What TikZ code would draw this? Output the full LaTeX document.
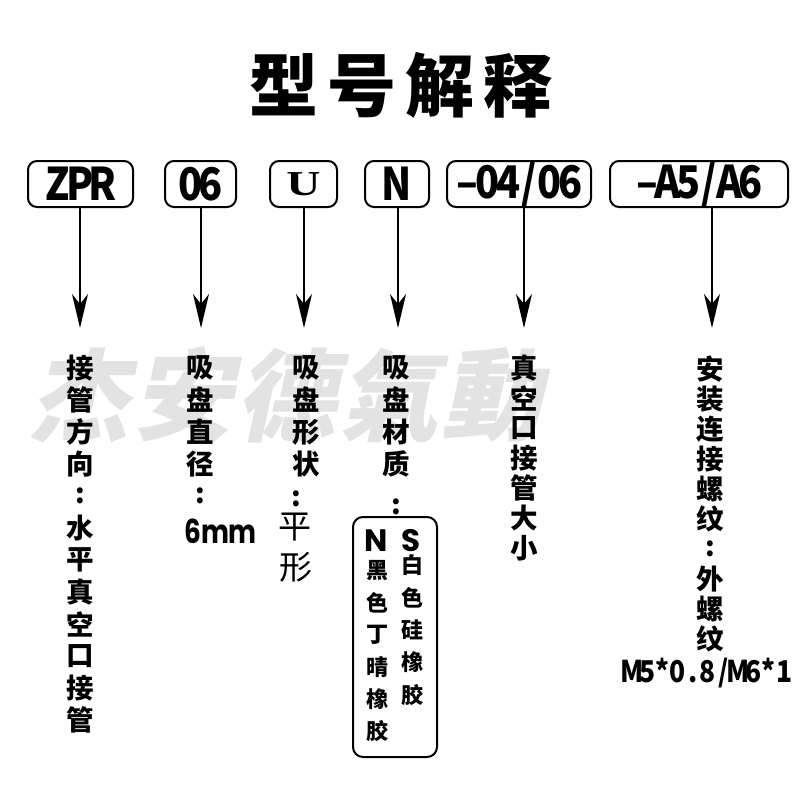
\documentclass[tikz,border=0pt]{standalone}
\usepackage{fontspec}
\usetikzlibrary{arrows.meta}
\newfontfamily\cjk{Noto Sans CJK SC}
\newfontfamily\pop{Poppins}
\newfontfamily\ser{Liberation Serif}
\definecolor{wm}{gray}{0.89}
\newcommand\mc[2][23.5pt]{\makebox[#1]{#2}}
\begin{document}
\begin{tikzpicture}[x=1pt,y=-1pt,
  box/.style={draw, line width=2pt, rounded corners=9pt, minimum height=46pt, inner sep=0pt},
  boxtxt/.style={font=\cjk\bfseries\fontsize{45}{45}\selectfont},
  lab/.style={font=\cjk\bfseries\fontsize{27.5}{27.5}\selectfont, inner sep=0pt},
  small/.style={font=\cjk\bfseries\fontsize{22}{22}\selectfont, inner sep=0pt},
  thin/.style={font=\cjk\fontsize{33}{33}\selectfont, inner sep=0pt},
  arr/.style={line width=2.2pt, -{Stealth[length=34pt,width=16pt,inset=10pt]}},
  wmark/.style={font=\cjk\bfseries\fontsize{100}{100}\selectfont, text=wm, inner sep=0pt}]
\useasboundingbox (0,0) rectangle (800,800);
\fill[white] (0,0) rectangle (800,800);
% watermark
\begin{scope}[xslant=0.22]
\foreach \c [count=\i from 0] in {杰,安,德,氣,動}
  \node[wmark, transform shape] (w\i) at ({175+103*\i},395) {\c};
\end{scope}
% title
\node[font=\cjk\bfseries\fontsize{69}{69}\selectfont, inner sep=0pt] (title) at (401,85)
  {型\hspace{9pt}号\hspace{9pt}解\hspace{9pt}释};
% boxes
\node[box, minimum width=105pt, boxtxt] (b1) at (80.5,184) {\scalebox{0.88}[1]{\mc[25.5pt]{Z}\mc[25.5pt]{P}\mc[25.5pt]{R}}};
\node[box, minimum width=71pt, boxtxt] (b2) at (200.5,184) {\scalebox{0.88}[1]{\mc{0}\mc{6}}};
\node[box, minimum width=67pt, font=\ser\bfseries\fontsize{35}{35}\selectfont] (b3) at (303.5,184) {\scalebox{1.35}[1]{U}};
\node[box, minimum width=64pt, boxtxt] (b4) at (397,184) {\scalebox{0.88}[1]{\mc{N}}};
\node[box, minimum width=144pt, boxtxt] (b5) at (519,184) {\scalebox{0.88}[1]{\mc{–}\mc{0}\mc{4}\mc{/}\mc{0}\mc{6}}};
\node[box, minimum width=178pt, boxtxt] (b6) at (699,184) {\scalebox{0.88}[1]{\mc{–}\mc{A}\mc{5}\mc{/}\mc{A}\mc{6}}};
% arrow tips
\coordinate (t1) at (80,328);
\coordinate (t2) at (201,328);
\coordinate (t3) at (304,328);
\coordinate (t4) at (398,328);
\coordinate (t5) at (524,328);
\coordinate (t6) at (712,328);
\foreach \k in {1,...,6} \draw[arr] (b\k.south -| t\k) -- (t\k);
% column 1
\foreach \c [count=\i from 0] in {接,管,方,向,{\raisebox{-4pt}{:}},水,平,真,空,口,接,管}
  \node[lab] (c1-\i) at ({80},{368+32*\i}) {\c};
% column 2
\foreach \c [count=\i from 0] in {吸,盘,直,径,{\raisebox{-8pt}{:}}}
  \node[lab] (c2-\i) at ({200},{368+32*\i}) {\c};
\node[font=\pop\bfseries\fontsize{33}{33}\selectfont, inner sep=0pt, anchor=base west] (mm) at (184,543) {\scalebox{0.8}[1]{6mm}};
% column 3
\foreach \c [count=\i from 0] in {吸,盘,形,状}
  \node[lab] (c3-\i) at ({306},{368+32*\i}) {\c};
\node[lab] (c3-4) at (296,499) {:};
\node[thin] (c3-5) at (295,527) {平};
\node[thin] (c3-6) at (296,567) {形};
% column 4
\foreach \c [count=\i from 0] in {吸,盘,材,质}
  \node[lab] (c4-\i) at ({396},{368+32*\i}) {\c};
\node[lab] (c4-4) at (396,507) {:};
\draw[line width=2pt, rounded corners=10pt] (353,517) rectangle (437,757);
\node[font=\pop\bfseries\fontsize{31}{31}\selectfont, inner sep=0pt] (nN) at (376,541) {N};
\node[font=\pop\bfseries\fontsize{31}{31}\selectfont, inner sep=0pt] (nS) at (411,541) {S};
\foreach \c [count=\i from 0] in {黑,色,丁,晴,橡,胶}
  \node[small] (n\i) at ({377},{571+32*\i}) {\c};
\foreach \c [count=\i from 0] in {白,色,硅,橡,胶}
  \node[small] (s\i) at ({412},{565+32.5*\i}) {\c};
% column 5
\foreach \c [count=\i from 0] in {真,空,口,接,管,大,小}
  \node[lab] (c5-\i) at ({524},{368+30*\i}) {\c};
% column 6
\foreach \c [count=\i from 0] in {安,装,连,接,螺,纹,{\raisebox{-4pt}{:}},外,螺,纹}
  \node[lab] (c6-\i) at ({710},{369+30*\i}) {\c};
\node[font=\cjk\bfseries\fontsize{30}{30}\selectfont, inner sep=0pt] (thr) at (708,673)
  {\scalebox{0.88}[1]{\mc[17.3pt]{M}\mc[17.3pt]{5}\mc[17.3pt]{*}\mc[17.3pt]{0}\mc[17.3pt]{.}\mc[17.3pt]{8}\mc[17.3pt]{/}\mc[17.3pt]{M}\mc[17.3pt]{6}\mc[17.3pt]{*}\mc[17.3pt]{1}}};
\end{tikzpicture}
\end{document}
